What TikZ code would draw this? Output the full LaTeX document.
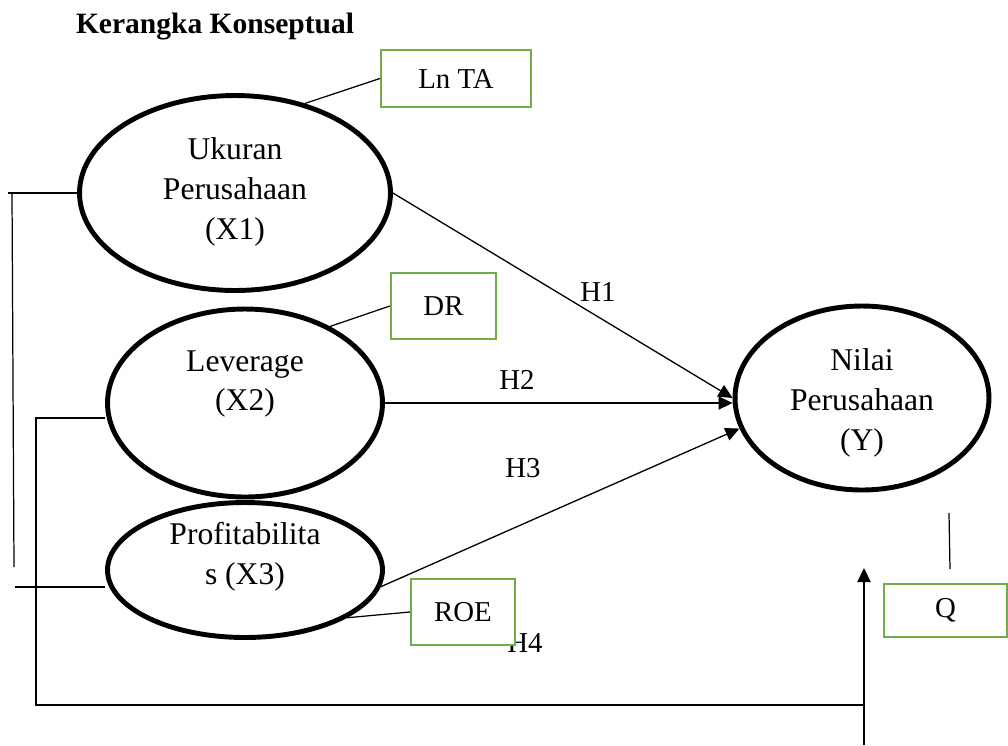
\documentclass[tikz,border=0pt]{standalone}
\usepackage{fontspec}
\setmainfont{Liberation Serif}
\usepackage{tikz}
\usetikzlibrary{shapes.geometric}
\usetikzlibrary{arrows.meta}
\definecolor{boxgreen}{HTML}{70AD47}
\tikzset{var/.style = {ellipse, draw, line width=2.8pt, inner sep=0}}
\tikzset{vartext/.style = {align=center, font=\fontsize{18}{22.7}\selectfont}}
\tikzset{indbox/.style = {draw=boxgreen, line width=1.3pt, fill=white, inner sep=0,
  font=\fontsize{16.4}{20}\selectfont}}
\tikzset{hyp/.style = {font=\fontsize{16.4}{20}\selectfont, inner sep=1}}

\begin{document}
\begin{tikzpicture} [x=.02cm, y=-.02cm]
\useasboundingbox (0,0) rectangle (1008,745);
\node[font=\bfseries\fontsize{16.8}{20}\selectfont] (title) at (215,27) {Kerangka Konseptual};
% latent variables
\node[var, minimum width=6.22cm, minimum height=3.9cm] (X1) at (235,193) {};
\node[var, minimum width=5.5cm, minimum height=3.76cm] (X2) at (245,403) {};
\node[var, minimum width=5.5cm, minimum height=2.7cm] (X3) at (245,570) {};
\node[var, minimum width=5.08cm, minimum height=3.68cm] (Y) at (862,398) {};
\node[vartext] (X1txt) at (235,192) {Ukuran\\Perusahaan\\(X1)};
\node[vartext] (X2txt) at (245,384) {Leverage\\(X2)};
\node[vartext] (X3txt) at (245,557) {Profitabilita\\s (X3)};
\node[vartext] (Ytxt) at (862,403) {Nilai\\Perusahaan\\(Y)};
% hypotheses
\draw[line width=.75pt, -{Triangle[length=8pt, width=7.5pt]}] (X1.east) -- (Y.west);
\draw[line width=.75pt, -{Triangle[length=8pt, width=7.5pt]}] (X2.east) -- (X2.east -| Y.west);
\draw[line width=.75pt, -{Triangle[length=8pt, width=7.5pt]}] (X3.353) -- (Y.194);
\node[hyp] (H1) at (598,292) {H1};
\node[hyp] (H2) at (517,380) {H2};
\node[hyp] (H3) at (523,468) {H3};
\node[hyp] (H4) at (525,643) {H4};
% indicators
\node[indbox, minimum width=3cm, minimum height=1.14cm] (LnTA) at (456,78.5) {Ln TA};
\node[indbox, minimum width=2.1cm, minimum height=1.33cm] (DR) at (443.5,306) {DR};
\node[indbox, minimum width=2.08cm, minimum height=1.33cm] (ROE) at (463,612) {ROE};
\node[indbox, minimum width=2.46cm, minimum height=1.07cm] (Q) at (945.5,610.5) {Q};
\draw[line width=.7pt] (LnTA.west) -- (X1.52);
\draw[line width=.7pt] (DR.west) -- (X2.42);
\draw[line width=.7pt] (ROE.west) -- (X3.335);
\coordinate (q0) at (949,513);
\coordinate (q1) at (950,569);
\draw[line width=.7pt] (q0) -- (q1);
% H4 lines
\coordinate (l1) at (8,193);
\coordinate (l1a) at (12,193);
\coordinate (l1b) at (14,567);
\coordinate (l3) at (15,587);
\coordinate (l2) at (36,418);
\coordinate (l2b) at (36,705);
\coordinate (a0) at (864,745);
\coordinate (a1) at (864,568);
\draw[line width=.7pt] (X1.west) -- (l1);
\draw[line width=.7pt] (l1a) -- (l1b);
\draw[line width=.7pt] (l3) -- (X3.west |- l3);
\draw[line width=.7pt] (X2.west |- l2) -- (l2) -- (l2b) -- (l2b -| a0);
\draw[line width=1pt, -{Triangle[length=8pt, width=7.5pt]}] (a0) -- (a1);
\end{tikzpicture}
\end{document}
